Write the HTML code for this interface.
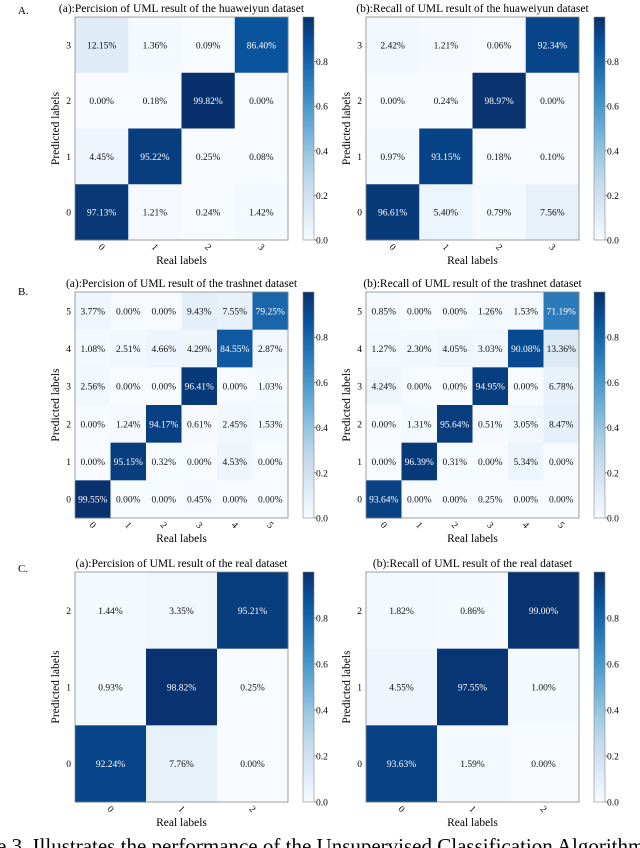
<!DOCTYPE html>
<html><head><meta charset="utf-8">
<style>
html,body{margin:0;padding:0;background:#fff;}
svg{display:block;font-family:"Liberation Serif",serif;}
</style></head>
<body>
<svg id="fig" width="640" height="848" viewBox="0 0 640 848" xmlns="http://www.w3.org/2000/svg">
<defs>
<linearGradient id="blues" x1="0" y1="1" x2="0" y2="0">
<stop offset="0" stop-color="#f7fbff"/><stop offset="0.125" stop-color="#deebf7"/><stop offset="0.25" stop-color="#c6dbef"/><stop offset="0.375" stop-color="#9ecae1"/><stop offset="0.5" stop-color="#6baed6"/><stop offset="0.625" stop-color="#4292c6"/><stop offset="0.75" stop-color="#2171b5"/><stop offset="0.875" stop-color="#08519c"/><stop offset="1" stop-color="#08306b"/>
</linearGradient>
</defs>
<text x="18" y="14" font-size="11">A.</text>
<text x="18" y="295" font-size="11">B.</text>
<text x="18" y="572" font-size="11">C.</text>
<text x="-10" y="853" font-size="21">re 3. Illustrates the performance of the Unsupervised Classification Algorithm</text>
</svg>
<script>
// rows listed from top (highest predicted label) to bottom (label 0)
const titleA1 = "(a):Percision of UML result of the huaweiyun dataset";
const valuesA1 = [[12.15,1.36,0.09,86.40],[0.00,0.18,99.82,0.00],[4.45,95.22,0.25,0.08],[97.13,1.21,0.24,1.42]];
const titleA2 = "(b):Recall of UML result of the huaweiyun dataset";
const valuesA2 = [[2.42,1.21,0.06,92.34],[0.00,0.24,98.97,0.00],[0.97,93.15,0.18,0.10],[96.61,5.40,0.79,7.56]];
const titleB1 = "(a):Percision of UML result of the trashnet dataset";
const valuesB1 = [[3.77,0.00,0.00,9.43,7.55,79.25],[1.08,2.51,4.66,4.29,84.55,2.87],[2.56,0.00,0.00,96.41,0.00,1.03],[0.00,1.24,94.17,0.61,2.45,1.53],[0.00,95.15,0.32,0.00,4.53,0.00],[99.55,0.00,0.00,0.45,0.00,0.00]];
const titleB2 = "(b):Recall of UML result of the trashnet dataset";
const valuesB2 = [[0.85,0.00,0.00,1.26,1.53,71.19],[1.27,2.30,4.05,3.03,90.08,13.36],[4.24,0.00,0.00,94.95,0.00,6.78],[0.00,1.31,95.64,0.51,3.05,8.47],[0.00,96.39,0.31,0.00,5.34,0.00],[93.64,0.00,0.00,0.25,0.00,0.00]];
const titleC1 = "(a):Percision of UML result of the real dataset";
const valuesC1 = [[1.44,3.35,95.21],[0.93,98.82,0.25],[92.24,7.76,0.00]];
const titleC2 = "(b):Recall of UML result of the real dataset";
const valuesC2 = [[1.82,0.86,99.00],[4.55,97.55,1.00],[93.63,1.59,0.00]];
const colorbarTicks = [0.0,0.2,0.4,0.6,0.8];
const vmax = 1.0;

const stops=[[0,[247,251,255]],[0.125,[222,235,247]],[0.25,[198,219,239]],[0.375,[158,202,225]],[0.5,[107,174,214]],[0.625,[66,146,198]],[0.75,[33,113,181]],[0.875,[8,81,156]],[1,[8,48,107]]];
function blues(t){t=Math.max(0,Math.min(1,t));for(let i=1;i<stops.length;i++){if(t<=stops[i][0]){const a=stops[i-1],b=stops[i];const f=(t-a[0])/(b[0]-a[0]);const c=a[1].map((v,k)=>Math.round(v+(b[1][k]-v)*f));return `rgb(${c.join(',')})`;}}return 'rgb(8,48,107)';}
const NS="http://www.w3.org/2000/svg";
const svg=document.getElementById('fig');
function mk(tag,attrs,parent){const e=document.createElementNS(NS,tag);for(const k in attrs)e.setAttribute(k,attrs[k]);(parent||svg).appendChild(e);return e;}

function heatmap(id,title,vals,x0,y0,w,h){
  const g=mk('g',{});
  
  
  const n=vals.length, cw=w/n, ch=h/n;
  const xs=i=>x0+i*cw, ys=r=>y0+r*ch;
  const t=mk('text',{x:x0+w/2,y:y0-5,'font-size':11.5,'text-anchor':'middle'},g);t.textContent=title;
  
  
  vals.forEach((row,r)=>row.forEach((v,c)=>{
    const rc=mk('rect',{x:xs(c),y:ys(r),width:cw+0.5,height:ch+0.5,fill:blues(v/100/vmax)},g);
    
    
    const tx=mk('text',{x:xs(c)+cw/2,y:ys(r)+ch/2+3.5,'font-size':9.5,'text-anchor':'middle',fill:(v/100>0.5?'#fff':'#111')},g);
    tx.textContent=v.toFixed(2)+'%';
    
    
  }));
  const fr=mk('rect',{x:x0,y:y0,width:w,height:h,fill:'none',stroke:'#888','stroke-width':0.8},g);
  
  
  for(let r=0;r<n;r++){
    const lab=n-1-r;
    const yt=mk('text',{x:x0-4,y:ys(r)+ch/2+3.5,'font-size':9.5,'text-anchor':'end'},g);yt.textContent=lab;
    
    
    const xx=xs(r)+cw/2, yy=y0+h+10;
    const xt=mk('text',{x:xx,y:yy,'font-size':9.5,'text-anchor':'middle',transform:`rotate(45 ${xx} ${yy-3})`},g);xt.textContent=r;
    
    
  }
  const xl=mk('text',{x:x0+w/2,y:y0+h+24,'font-size':11.5,'text-anchor':'middle'},g);xl.textContent='Real labels';
  
  
  const yl=mk('text',{x:0,y:0,'font-size':11.5,'text-anchor':'middle',transform:`translate(${x0-16},${y0+h/2}) rotate(-90)`},g);yl.textContent='Predicted labels';
  
  
  // colorbar
  const bx=x0+w+15;
  const cb=mk('rect',{x:bx,y:y0,width:11,height:h,fill:'url(#blues)',stroke:'#888','stroke-width':0.6},g);
  
  
  colorbarTicks.forEach(tv=>{
    const ty=y0+h-(tv/vmax)*h;
    mk('line',{x1:bx+11,x2:bx+13,y1:ty,y2:ty,stroke:'#555','stroke-width':0.6},g);
    const ct=mk('text',{x:bx+13,y:ty+3.5,'font-size':9.5},g);ct.textContent=tv.toFixed(1);
    
    
  });
}
heatmap('huaweiyun-precision',titleA1,valuesA1,75,17,213,223);
heatmap('huaweiyun-recall',titleA2,valuesA2,366,17,213,223);
heatmap('trashnet-precision',titleB1,valuesB1,75,292,213,226);
heatmap('trashnet-recall',titleB2,valuesB2,366,292,213,226);
heatmap('real-precision',titleC1,valuesC1,75,572,213,230);
heatmap('real-recall',titleC2,valuesC2,366,572,213,230);
</script>
</body></html>
